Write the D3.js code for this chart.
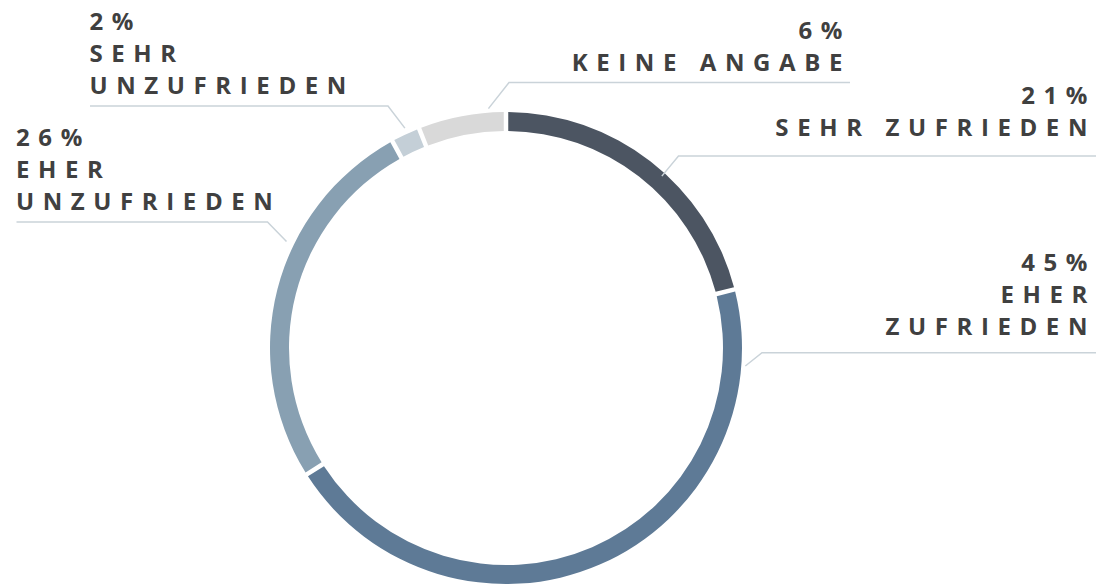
<!DOCTYPE html>
<html>
<head>
<meta charset="utf-8">
<script src="https://cdn.jsdelivr.net/npm/d3@7/dist/d3.min.js"></script>
<style>
  html, body { margin: 0; padding: 0; background: #ffffff; }
  svg { display: block; }
  text { font-family: "Open Sans", "Noto Sans", sans-serif; font-weight: 700; fill: #404040; }
</style>
</head>
<body>
<svg id="chart" width="1096" height="585"></svg>
<script>
// ---- data ----
const categories = ["SEHR ZUFRIEDEN", "EHER\nZUFRIEDEN", "EHER\nUNZUFRIEDEN", "SEHR\nUNZUFRIEDEN", "KEINE ANGABE"];
const values = [21, 45, 26, 2, 6];
const colors = ["#4c5562", "#5e7a96", "#88a0b2", "#c4cfd7", "#d9d9d9"];

// ---- label layout (annotation placement) ----
const labelLayout = [
  { side: "right", textX: 1096, lastBaseline: 136, lineY: 156, lineFrom: 678.5, lineTo: 1096, attachDeg: 42.2, attachR: 232 },
  { side: "right", textX: 1096, lastBaseline: 335, lineY: 352.7, lineFrom: 762, lineTo: 1096, attachDeg: 94.3, attachR: 240 },
  { side: "left",  textX: 16,   lastBaseline: 210, lineY: 222, lineFrom: 267.5, lineTo: 16.5, attachDeg: 295.9, attachR: 244 },
  { side: "left",  textX: 89.5, lastBaseline: 94,  lineY: 106, lineFrom: 388, lineTo: 90, attachDeg: 335.3, attachR: 242 },
  { side: "right", textX: 851,  lastBaseline: 70.5, lineY: 82.5, lineFrom: 509, lineTo: 850, attachDeg: 355.8, attachR: 240 }
];

const W = 1096, H = 585;
const cx = 506, cy = 348;
const outerR = 236, innerR = 217;
const lineHeight = 31.8;

const svg = d3.select("#chart");
const g = svg.append("g").attr("transform", `translate(${cx},${cy})`);

const pie = d3.pie().sort(null).value(d => d).startAngle(0).endAngle(2 * Math.PI);
const arcs = pie(values);

const arc = d3.arc()
  .innerRadius(innerR)
  .outerRadius(outerR)
  .padAngle(4.5 / outerR)
  .padRadius(outerR);

g.selectAll("path.slice")
  .data(arcs)
  .join("path")
  .attr("class", "slice")
  .attr("d", arc)
  .attr("fill", (d, i) => colors[i]);

// leader lines
function polar(deg, r) {
  const a = deg * Math.PI / 180;
  return [cx + r * Math.sin(a), cy - r * Math.cos(a)];
}

const labels = svg.append("g");
arcs.forEach((d, i) => {
  const L = labelLayout[i];
  const p = polar(L.attachDeg, L.attachR);
  const path = d3.path();
  path.moveTo(p[0], p[1]);
  path.lineTo(L.lineFrom, L.lineY);
  path.lineTo(L.lineTo, L.lineY);
  labels.append("path")
    .attr("d", path.toString())
    .attr("fill", "none")
    .attr("stroke", "#cad3d9")
    .attr("stroke-width", 1.5);

  const lines = [values[i] + "%"].concat(categories[i].split("\n"));
  const n = lines.length;
  const t = labels.append("text")
    .attr("text-anchor", L.side === "right" ? "end" : "start")
    .style("font-size", "24px")
    .style("letter-spacing", "8.6px");
  lines.forEach((s, k) => {
    t.append("tspan")
      .attr("x", L.textX)
      .attr("y", L.lastBaseline - (n - 1 - k) * lineHeight)
      .text(s);
  });
});
</script>
</body>
</html>
